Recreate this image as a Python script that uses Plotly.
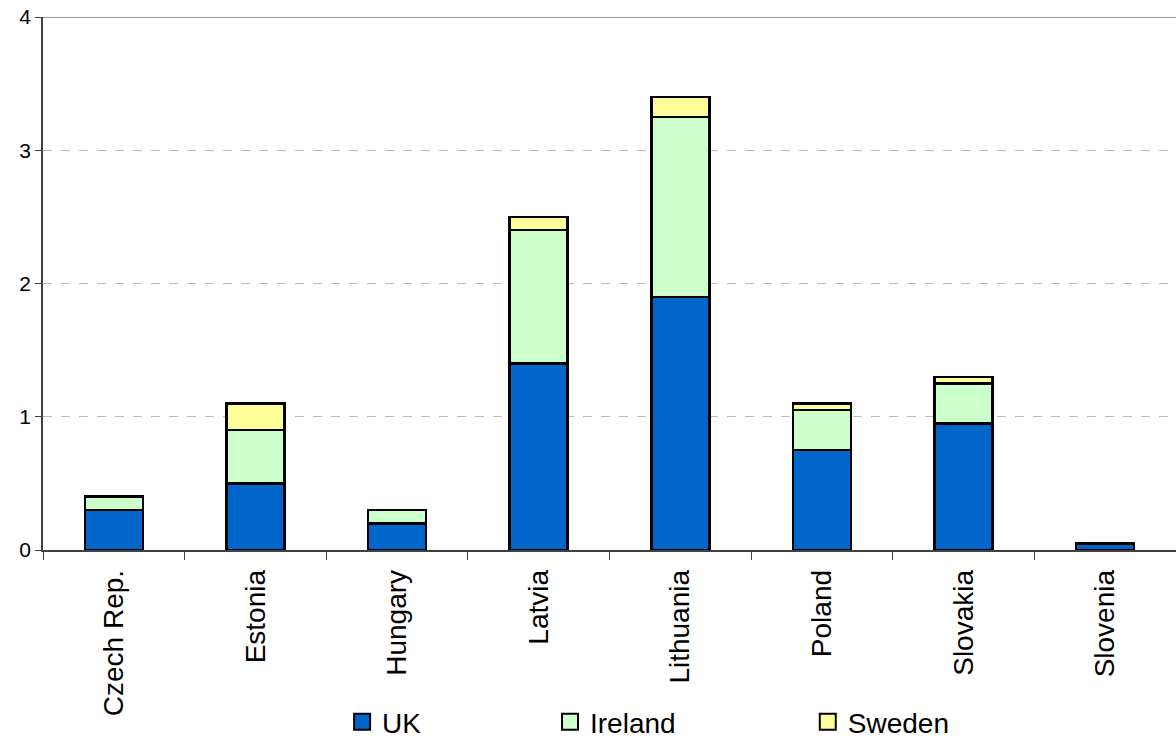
import plotly.graph_objects as go

categories = ["Czech Rep.", "Estonia", "Hungary", "Latvia", "Lithuania", "Poland", "Slovakia", "Slovenia"]
uk = [0.3, 0.5, 0.2, 1.4, 1.9, 0.75, 0.95, 0.05]
ireland = [0.1, 0.4, 0.1, 1.0, 1.35, 0.3, 0.3, 0.0]
sweden = [0.0, 0.2, 0.0, 0.1, 0.15, 0.05, 0.05, 0.0]

series = [("UK", uk, "#0066CC"), ("Ireland", ireland, "#CCFFCC"), ("Sweden", sweden, "#FFFF99")]
legend_ids = ["legend", "legend2", "legend3"]
legend_x = [0.264, 0.4475, 0.675]

fig = go.Figure()
for name, vals, col in series:
    fig.add_trace(go.Bar(
        x=categories, y=vals, name=name, showlegend=False,
        marker=dict(color=col, line=dict(color="black", width=2.5)),
    ))
for (name, vals, col), lid in zip(series, legend_ids):
    fig.add_trace(go.Scatter(
        x=[None], y=[None], mode="markers", name=name, legend=lid, showlegend=True,
        marker=dict(symbol="square", size=20, color=col, line=dict(color="black", width=2)),
    ))

leg_common = dict(orientation="h", yref="container", y=0.0217, yanchor="middle", xanchor="left",
                  font=dict(size=28), bgcolor="rgba(0,0,0,0)")
fig.update_layout(
    barmode="stack",
    bargap=0.59,
    width=1176, height=738,
    margin=dict(l=43, r=0, t=17, b=188),
    plot_bgcolor="white", paper_bgcolor="white",
    font=dict(family="Liberation Sans, Arial", color="black", size=20),
    legend=dict(x=legend_x[0], **leg_common),
    legend2=dict(x=legend_x[1], **leg_common),
    legend3=dict(x=legend_x[2], **leg_common),
    xaxis=dict(showline=True, linecolor="#404040", linewidth=1.5, ticks="outside",
               tickson="boundaries", ticklen=8, tickcolor="#404040", automargin=False,
               ticklabelstandoff=7,
               tickangle=-90, tickfont=dict(size=28), showgrid=False),
    yaxis=dict(range=[0, 4], tickvals=[0, 1, 2, 3, 4], showline=True, linecolor="#404040",
               linewidth=1.5, ticks="outside", ticklen=6, tickcolor="#404040", automargin=False,
               showgrid=True, gridcolor="#BBBBBB", griddash="dash", gridwidth=1,
               zeroline=False, tickfont=dict(size=21)),
)
fig.add_shape(type="line", xref="paper", yref="y", x0=0, x1=1, y0=4, y1=4,
              line=dict(color="#999999", width=2))

fig.write_html("out.html")
